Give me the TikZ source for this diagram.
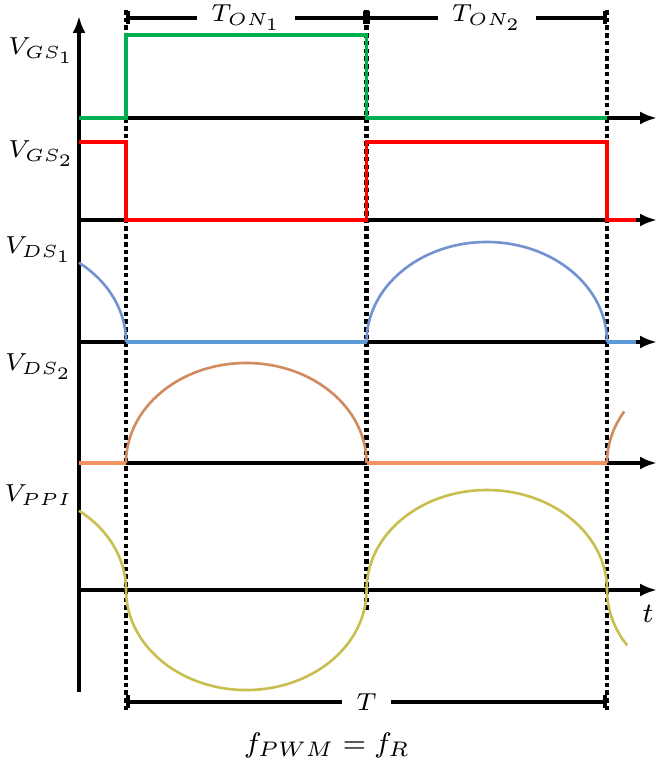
\documentclass[tikz,border=0pt]{standalone}
\usepackage{amsmath,amssymb}
\usepackage{xcolor}
\usepackage{tikz}
\usetikzlibrary{arrows.meta}
\definecolor{gsgreen}{HTML}{00B050}
\definecolor{gsred}{HTML}{FF0000}
\definecolor{dsblue}{HTML}{7293CF}
\definecolor{dsflat}{HTML}{5B9BD5}
\definecolor{dsbrown}{HTML}{D18B61}
\definecolor{dsorange}{HTML}{F4935F}
\definecolor{ppiyel}{HTML}{C9BF50}

\begin{document}
\begin{tikzpicture}[x=0.1mm,y=0.1mm,
  axis/.style={line width=1.1pt,-{Latex[length=1.7mm,width=1.3mm]}},
  sig/.style={line width=1pt},
  arcsig/.style={line width=0.75pt},
  guide/.style={line width=1.2pt,dash pattern=on 1.3pt off 0.9pt},
  dim/.style={line width=1.1pt,{Bar[width=1.3mm]}-{Bar[width=1.3mm]}},
  dimlab/.style={fill=white,inner xsep=4pt,inner ysep=1pt,font=\scriptsize},
  vlab/.style={anchor=east,inner sep=0pt,font=\fontsize{7.5}{9}\selectfont}]
\useasboundingbox (0,0) rectangle (662,767);
\draw[axis] (79,75)--(79,751);
\foreach \y in {649,547,425,304,177}{\draw[axis] (79,\y)--(657,\y);}
\coordinate (ta) at (126,749); \coordinate (tb) at (366.5,749); \coordinate (tc) at (607,749);
\coordinate (ba) at (126,65); \coordinate (bc) at (607,65);
\draw[guide] (126,757)--(126,55); \draw[guide] (366.5,757)--(366.5,157); \draw[guide] (607,757)--(607,55);
\draw[dim] (ta)--node[dimlab] (ton1) {$T_{ON_1}$} (tb);
\draw[dim] (tb)--node[dimlab] (ton2) {$T_{ON_2}$} (tc);
\draw[dim] (ba)--node[dimlab] (per) {$T$} (bc);
\draw[sig,gsgreen] (79,649)--(126,649)--(126,732)--(366.5,732)--(366.5,649)--(607,649);
\draw[sig,gsred] (79,625)--(126,625)--(126,547)--(366.5,547)--(366.5,625)--(607,625)--(607,547)--(636,547);
\draw[arcsig,dsblue] (79,504.3) arc[start angle=52.5,end angle=0,x radius=120.25,y radius=100];
\draw[sig,dsflat] (126,425)--(366.5,425);
\draw[arcsig,dsblue] (366.5,425) arc[start angle=180,end angle=0,x radius=120.25,y radius=100];
\draw[sig,dsflat] (607,425)--(636,425);
\draw[sig,dsorange] (79,304)--(126,304) (366.5,304)--(607,304);
\draw[arcsig,dsbrown] (126,304) arc[start angle=180,end angle=0,x radius=120.25,y radius=100];
\draw[arcsig,dsbrown] (607,304) arc[start angle=180,end angle=149,x radius=120.25,y radius=100];
\draw[arcsig,ppiyel] (79,256.3) arc[start angle=52.5,end angle=0,x radius=120.25,y radius=100]
  arc[start angle=180,end angle=360,x radius=120.25,y radius=100]
  arc[start angle=180,end angle=0,x radius=120.25,y radius=100]
  arc[start angle=180,end angle=213.6,x radius=120.25,y radius=100];
\node[vlab] (vgs1) at (75,716) {$V_{GS_1}$};
\node[vlab] (vgs2) at (75,613) {$V_{GS_2}$};
\node[vlab] (vds1) at (73,517) {$V_{DS_1}$};
\node[vlab] (vds2) at (73,400) {$V_{DS_2}$};
\node[vlab] (vppi) at (73,272) {$V_{PPI}$};
\node[font=\footnotesize] (tax) at (648,153) {$t$};
\node[font=\footnotesize] (fpwm) at (327,22) {$f_{PWM}=f_R$};
\end{tikzpicture}
\end{document}
